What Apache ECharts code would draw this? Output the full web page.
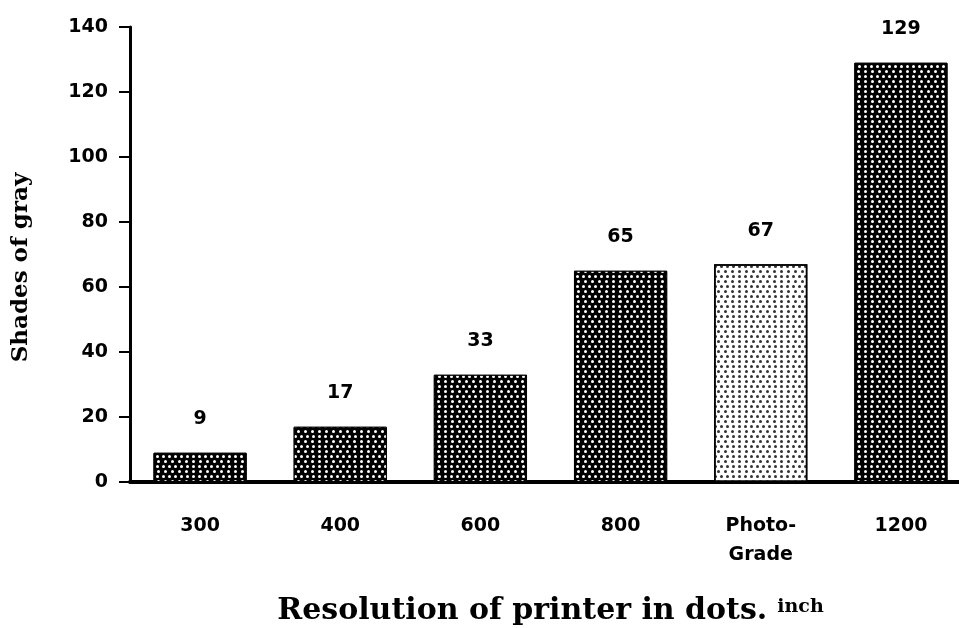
<!DOCTYPE html>
<html>
<head>
<meta charset="utf-8">
<script src="https://cdn.jsdelivr.net/npm/echarts@6/dist/echarts.min.js"></script>
<style>
  html, body { margin: 0; padding: 0; background: #fff; }
  #main { width: 959px; height: 628px; }
</style>
</head>
<body>
<div id="main"></div>
<script>
// data
const categories = ['300', '400', '600', '800', 'Photo-\nGrade', '1200'];
const shades = [9, 17, 33, 65, 67, 129];
const yTicks = [0, 20, 40, 60, 80, 100, 120, 140];

// dotted screen fills (white dots on black, black dots on white)
const dotDecal = function (c) {
    return {
        symbol: 'circle',
        symbolSize: 1,
        color: c,
        dashArrayX: [[2.3, 3], [0, 2.65, 2.3, 0.35]],
        dashArrayY: [2.2, 1.1],
        rotation: 0
    };
};
const darkDots = { color: '#000', borderColor: '#000', borderWidth: 1, decal: dotDecal('#fff') };
const lightDots = { color: '#fff', borderColor: '#000', borderWidth: 1.5, decal: dotDecal('#333') };

const myChart = echarts.init(document.getElementById('main'));
const labelFont = {
    fontFamily: 'DejaVu Sans',
    fontWeight: 'bold',
    fontSize: 19,
    color: '#000'
};

myChart.setOption({
    animation: false,
    backgroundColor: '#fff',
    grid: {
        left: 130,
        right: -12,
        top: 27,
        bottom: 146,
        outerBoundsMode: 'none'
    },
    xAxis: {
        type: 'category',
        data: categories,
        axisLine: { show: true, lineStyle: { color: '#000', width: 4 } },
        axisTick: { show: false },
        axisLabel: Object.assign({ margin: 30, lineHeight: 29 }, labelFont),
        name: 'Resolution of printer in dots.{s|inch}',
        nameLocation: 'middle',
        nameGap: 114,
        nameTextStyle: {
            fontFamily: 'DejaVu Serif',
            fontWeight: 'bold',
            fontSize: 30,
            color: '#000',
            rich: {
                s: {
                    fontFamily: 'DejaVu Serif',
                    fontWeight: 'bold',
                    fontSize: 19,
                    color: '#000',
                    padding: [0, 0, 8, 10]
                }
            }
        }
    },
    yAxis: {
        type: 'value',
        min: yTicks[0],
        max: yTicks[yTicks.length - 1],
        interval: 20,
        splitLine: { show: false },
        axisLine: { show: true, lineStyle: { color: '#000', width: 3 } },
        axisTick: { show: true, length: 11, lineStyle: { color: '#000', width: 2 } },
        axisLabel: Object.assign({ margin: 22 }, labelFont),
        name: 'Shades of gray',
        nameLocation: 'middle',
        nameRotate: 90,
        nameGap: 97,
        nameTextStyle: {
            fontFamily: 'DejaVu Serif',
            fontWeight: 'bold',
            fontSize: 23,
            color: '#000',
            padding: [0, 26, 0, 0]
        }
    },
    series: [{
        type: 'bar',
        barWidth: '66.5%',
        data: shades.map(function (v, i) {
            return { value: v, itemStyle: i === 4 ? lightDots : darkDots };
        }),
        label: Object.assign({
            show: true,
            position: 'top',
            distance: 24
        }, labelFont)
    }]
});
</script>
</body>
</html>
